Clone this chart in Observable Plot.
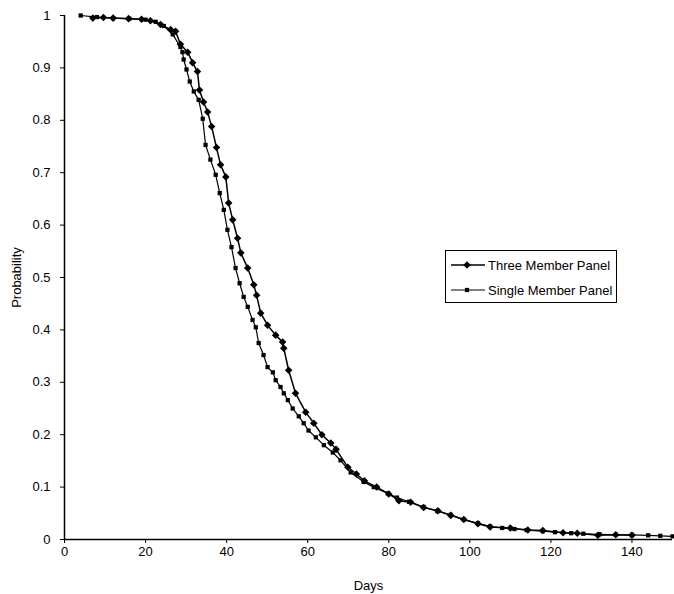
<!DOCTYPE html>
<html>
<head>
<meta charset="utf-8">
<script src="https://cdn.jsdelivr.net/npm/d3@7"></script>
<script src="https://cdn.jsdelivr.net/npm/@observablehq/plot@0.6"></script>
<style>
  html, body { margin: 0; padding: 0; background: #fff; }
  #wrap { position: relative; width: 674px; height: 594px; }
  #legend { position: absolute; left: 445px; top: 250px; width: 172px; height: 53px;
            border: 1px solid #000; background: #fff; box-sizing: border-box; }
</style>
</head>
<body>
<div id="wrap"><div id="chart"></div><div id="legend"></div></div>
<script>
// ---- data ----
const seriesNames = ["Three Member Panel", "Single Member Panel"];

const threeDays = [7, 9.6, 12, 15.8, 19, 21.2, 23.7, 26.2, 27.4, 28.6, 30.4, 31.6, 32.8, 33.3, 34.3, 35.3, 36.3, 37.5, 38.5, 39.8, 40.5, 41.5, 42.7, 43.5, 45.2, 46.7, 47.4, 48.4, 50.1, 52.1, 53.8, 54.1, 55.3, 57.0, 59.5, 61.5, 63.5, 65.7, 67, 69.9, 72, 74, 77, 80, 82.5, 85.4, 88.6, 92.1, 95.3, 98.5, 102, 105, 110, 114.3, 118, 123, 126.5, 131.6, 136, 140];
const threeProb = [0.995, 0.996, 0.995, 0.994, 0.993, 0.99, 0.983, 0.973, 0.97, 0.945, 0.93, 0.91, 0.893, 0.858, 0.835, 0.816, 0.788, 0.748, 0.715, 0.692, 0.642, 0.61, 0.575, 0.547, 0.518, 0.486, 0.466, 0.432, 0.409, 0.39, 0.377, 0.365, 0.323, 0.279, 0.243, 0.222, 0.2, 0.184, 0.172, 0.138, 0.125, 0.112, 0.1, 0.087, 0.074, 0.071, 0.061, 0.055, 0.046, 0.038, 0.03, 0.024, 0.022, 0.018, 0.017, 0.013, 0.012, 0.008, 0.009, 0.008];

const singleDays = [4, 8, 12, 16, 20, 22.5, 24.5, 26.7, 28.6, 29.1, 29.4, 30.1, 30.9, 31.9, 33.1, 34.1, 34.8, 36.0, 37.3, 38.3, 39.3, 40.2, 41.2, 42.2, 43.2, 44.2, 45.2, 46.4, 47.2, 47.9, 49.1, 50.1, 51.4, 52.1, 53.3, 54.1, 55.1, 56.3, 57.8, 59.0, 60.2, 62, 64, 66.2, 68.1, 70.6, 73.8, 76.3, 79.8, 82, 85, 88.6, 92, 95.3, 98.5, 102, 105, 108, 111, 114, 118, 121, 125, 128, 132, 136, 140, 144, 147, 150];
const singleProb = [1.0, 0.997, 0.995, 0.994, 0.992, 0.988, 0.98, 0.964, 0.94, 0.93, 0.916, 0.897, 0.874, 0.855, 0.839, 0.803, 0.753, 0.725, 0.696, 0.661, 0.629, 0.591, 0.558, 0.518, 0.489, 0.463, 0.444, 0.419, 0.405, 0.375, 0.352, 0.329, 0.319, 0.304, 0.291, 0.279, 0.266, 0.25, 0.235, 0.222, 0.208, 0.195, 0.18, 0.166, 0.151, 0.128, 0.11, 0.1, 0.088, 0.08, 0.072, 0.062, 0.054, 0.047, 0.038, 0.031, 0.025, 0.022, 0.02, 0.018, 0.016, 0.014, 0.012, 0.011, 0.01, 0.009, 0.009, 0.008, 0.007, 0.006];

const xTicks = [0, 20, 40, 60, 80, 100, 120, 140];
const yTicks = [0, 0.1, 0.2, 0.3, 0.4, 0.5, 0.6, 0.7, 0.8, 0.9, 1];

const three = threeDays.map((d, i) => ({day: d, p: threeProb[i]}));
const single = singleDays.map((d, i) => ({day: d, p: singleProb[i]}));

const font = "'Liberation Sans', Arial, Helvetica, sans-serif";

const chart = Plot.plot({
  width: 674,
  height: 594,
  marginLeft: 64,
  marginRight: 2,
  marginTop: 15,
  marginBottom: 55,
  style: {fontFamily: font, fontSize: "14px", color: "#000", background: "#fff", overflow: "visible"},
  x: {domain: [0, 150], ticks: xTicks, tickSize: 4, tickPadding: 3, tickFormat: d => String(d),
      label: "Days", labelAnchor: "center", labelOffset: 50, labelArrow: "none"},
  y: {domain: [0, 1], ticks: yTicks, tickSize: 4, tickPadding: 10, tickFormat: d => String(+d.toFixed(1)),
      label: "Probability", labelAnchor: "center", labelOffset: 53, labelArrow: "none"},
  marks: [
    Plot.ruleX([0], {stroke: "#000", strokeWidth: 1.5}),
    Plot.ruleY([0], {stroke: "#000", strokeWidth: 1.5}),
    Plot.line(single, {x: "day", y: "p", stroke: "#000", strokeWidth: 1.2}),
    Plot.dot(single, {x: "day", y: "p", symbol: "square", r: 2.4, fill: "#000", stroke: "none"}),
    Plot.line(three, {x: "day", y: "p", stroke: "#000", strokeWidth: 1.5}),
    Plot.dot(three, {x: "day", y: "p", symbol: "diamond2", r: 3.4, fill: "#000", stroke: "none"})
  ]
});
document.getElementById("chart").appendChild(chart);

// axis label font size
d3.select(chart).selectAll("g[aria-label$='label'] text").style("font-size", "13px");

// legend
const lg = d3.select("#legend").append("svg").attr("width", 170).attr("height", 51)
  .style("font-family", font).style("font-size", "13px");
const rows = [
  {name: seriesNames[0], sym: d3.symbolDiamond2, size: Math.PI * 3.4 * 3.4, sw: 1.5},
  {name: seriesNames[1], sym: d3.symbolSquare, size: Math.PI * 2.4 * 2.4, sw: 1.2}
];
rows.forEach((r, i) => {
  const y = 14 + i * 25;
  lg.append("line").attr("x1", 5).attr("x2", 39).attr("y1", y).attr("y2", y)
    .attr("stroke", "#000").attr("stroke-width", r.sw);
  lg.append("path").attr("d", d3.symbol(r.sym, r.size)()).attr("transform", `translate(21,${y})`).attr("fill", "#000");
  lg.append("text").attr("x", 42).attr("y", y).attr("dy", "0.35em").attr("fill", "#000").text(r.name);
});
</script>
</body>
</html>
